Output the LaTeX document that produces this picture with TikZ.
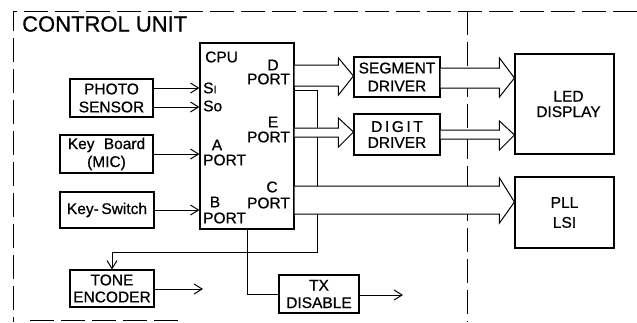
\documentclass[tikz,border=0pt]{standalone}
\usepackage{fontspec}
\setmainfont{Liberation Sans}[FakeBold=0.7]
\usetikzlibrary{arrows.meta,calc}
\newcommand\hollowarrow[7]{%
  \filldraw[hollow] let \p1=(#1.east), \p2=(#2.west) in
    (\x1,#3) -- (\x2-15pt,#3) -- (\x2-15pt,#5) -- (\x2,#7) --
    (\x2-15pt,#6) -- (\x2-15pt,#4) -- (\x1,#4);}
\begin{document}
\begin{tikzpicture}[x=1pt,y=-1pt,
  txt/.style={font=\fontsize{15.5}{18}\selectfont},
  box/.style={draw,line width=1.1pt,inner sep=0pt,align=center,txt},
  lab/.style={inner sep=0pt,txt},
  conn/.style={line width=1pt},
  arr/.style={conn,-{Straight Barb[length=8pt,width=10pt,line width=1pt]}},
  hollow/.style={line width=1pt,fill=white,draw=black},
  frame/.style={line width=1pt,dash pattern=on 24pt off 7pt}]
\useasboundingbox (0,0) rectangle (637,322);
% frame
\draw[frame] (637,11) -- (13,11) -- (13,322);
\draw[frame] (30,320.5) -- (180,320.5);
\draw[frame] (467,11) -- (467,322);
\node[anchor=west,inner sep=0pt,font=\fontsize{22}{22}\selectfont] (title) at (22,24) {CONTROL UNIT};
% CPU
\node[draw,line width=1.2pt,minimum width=94pt,minimum height=186pt,inner sep=0pt] (cpu) at (247,136) {};
\node[lab,anchor=west] (lcpu) at (205,57) {CPU};
\node[lab] (ld) at (273,65) {D};
\node[lab] (ldp) at (268.5,79) {PORT};
\node[lab,anchor=west] (lsi) at (203,88) {S{\fontsize{11}{11}\selectfont I}};
\node[lab,anchor=west] (lso) at (203,106) {So};
\node[lab] (le) at (273,122) {E};
\node[lab] (lep) at (268.5,137) {PORT};
\node[lab] (la) at (217,145) {A};
\node[lab,anchor=west] (lap) at (203,160) {PORT};
\node[lab] (lc) at (272,187) {C};
\node[lab] (lcp) at (268.5,203) {PORT};
\node[lab] (lb) at (215,202) {B};
\node[lab,anchor=west] (lbp) at (203,218) {PORT};
% left boxes
\node[box,minimum width=83pt,minimum height=38pt] (photo) at (111.5,98) {PHOTO\\SENSOR};
\node[box,minimum width=93pt,minimum height=38pt] (keyb) at (106.5,154) {Key\hspace{0.6em}Board\\(MIC)};
\node[box,minimum width=94pt,minimum height=36pt] (keys) at (107,210) {Key-\,Switch};
\node[box,minimum width=84pt,minimum height=37pt,font=\fontsize{15.5}{17}\selectfont] (tone) at (112,288.5) {TONE\\ENCODER};
\node[box,minimum width=80pt,minimum height=38pt,font=\fontsize{15.5}{17.5}\selectfont] (txd) at (319,294) {TX\\DISABLE};
% right boxes
\node[box,minimum width=86pt,minimum height=40pt] (seg) at (397,77) {SEGMENT\\DRIVER};
\node[box,minimum width=86pt,minimum height=41pt,font=\fontsize{15.5}{16}\selectfont] (dig) at (397,134.5) {D\,I\,G\,I\,T\\DRIVER};
\node[box,minimum width=99pt,minimum height=100pt,font=\fontsize{15.5}{15.5}\selectfont] (led) at (564.5,104) {\hspace*{8pt}LED\\\hspace*{8pt}DISPLAY};
\node[box,minimum width=99pt,minimum height=71pt,font=\fontsize{15.5}{20}\selectfont] (pll) at (564.5,212.5) {PLL\\LSI};
% single-line connectors
\draw[arr] (photo.east |- 0,88) -- (cpu.west |- 0,88);
\draw[arr] (photo.east |- 0,107) -- (cpu.west |- 0,107);
\draw[arr] (keyb.east |- 0,154) -- (cpu.west |- 0,154);
\draw[arr] (keys.east) -- (cpu.west |- keys.east);
\coordinate (toneout) at (203,289);
\coordinate (txout) at (403,295);
\draw[arr] (tone.east |- toneout) -- (toneout);
\draw[arr] (txd.east |- txout) -- (txout);
\coordinate (loopA) at (317,90);
\coordinate (loopB) at (317,252);
\draw[arr] (cpu.east |- loopA) -- (loopA) -- (loopB) -- (tone.north |- loopB) -- (tone.north);
\draw[conn] (cpu.south) |- (txd.west);
% hollow bus arrows
\hollowarrow{cpu}{seg}{65}{86}{58}{95}{76}
\hollowarrow{seg}{led}{68}{88}{58}{97}{78}
\hollowarrow{cpu}{dig}{128}{137}{118}{147}{132}
\hollowarrow{dig}{led}{130}{139}{121}{150}{135}
\hollowarrow{cpu}{pll}{186}{214}{178}{223}{202}
\end{tikzpicture}
\end{document}
